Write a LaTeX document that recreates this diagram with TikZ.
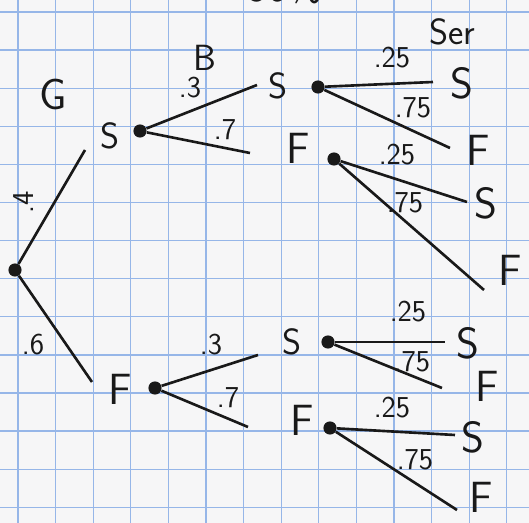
\documentclass[tikz,border=0pt]{standalone}
\usepackage{tikz}
\usepackage{xcolor}
\usetikzlibrary{positioning}

\definecolor{paper}{RGB}{246,246,247}
\definecolor{gridblue}{RGB}{150,182,232}
\definecolor{ink}{RGB}{25,25,25}

\begin{document}
\begin{tikzpicture}[
    x=0.02cm, y=-0.02cm,
    gridline/.style={draw=gridblue, line width=0.75pt},
    dot/.style={circle, fill=ink, inner sep=0pt, minimum size=7.5pt},
    branch/.style={draw=ink, line width=1.5pt},
    prob/.style={text=ink, font=\sffamily\LARGE},
    tag/.style={text=ink, font=\sffamily\huge},
    midout/.style={text=ink, font=\sffamily\huge},
    leaf/.style={text=ink, font=\sffamily\Huge}
]

% Paper and grid
\clip (0,0) rectangle (529,523);
\fill[paper] (0,0) rectangle (529,523);
\foreach \i in {0,...,13} {
    \draw[gridline] ({18+37.6*\i},0) -- ({18+37.6*\i},523);
    \draw[gridline] (0,{12+38.1*\i}) -- (529,{12+38.1*\i});
}

% Heading (cut off at the top)
\node[leaf] (head) at (285,-14) {50\%};

% Root
\node[dot] (root) at (15,270) {};
\node[leaf] (G) at (53,94) {G};
\node[prob, rotate=90] (pG) at (24,202) {.4};
\node[prob] (pGF) at (33,345) {.6};
\coordinate (eS) at (85,150);
\coordinate (eF) at (92,382);
\draw[branch] (root) -- (eS);
\draw[branch] (root) -- (eF);

% Level 1: S
\node[midout] (S1) at (110,136) {S};
\node[dot] (dS1) at (140,131) {};
\node[tag] (B) at (205,58) {B};
\node[prob] (p1) at (190,88) {.3};
\node[prob] (p2) at (225,130) {.7};
\coordinate (eSS) at (257,85);
\coordinate (eSF) at (250,153);
\draw[branch] (dS1) -- (eSS);
\draw[branch] (dS1) -- (eSF);

% Level 1: F
\node[leaf] (F1) at (120,389) {F};
\node[dot] (dF1) at (155,388) {};
\node[prob] (p3) at (211,345) {.3};
\node[prob] (p4) at (228,398) {.7};
\coordinate (eFS) at (258,355);
\coordinate (eFF) at (248,427);
\draw[branch] (dF1) -- (eFS);
\draw[branch] (dF1) -- (eFF);

% Level 2: S after S
\node[midout] (SS) at (278,86) {S};
\node[dot] (dSS) at (318,87) {};
\node[tag] (Ser) at (452,32) {Ser};
\node[prob] (q1) at (392,58) {.25};
\node[prob] (q2) at (413,108) {.75};
\node[leaf] (SSS) at (462,83) {S};
\node[leaf] (SSF) at (478,150) {F};
\coordinate (eSSS) at (433,82);
\coordinate (eSSF) at (450,148);
\draw[branch] (dSS) -- (eSSS);
\draw[branch] (dSS) -- (eSSF);

% Level 2: F after S
\node[leaf] (SF) at (298,148) {F};
\node[dot] (dSF) at (334,159) {};
\node[prob] (q3) at (397,155) {.25};
\node[prob] (q4) at (405,203) {.75};
\node[leaf] (SFS) at (486,203) {S};
\node[leaf] (SFF) at (510,270) {F};
\coordinate (eSFS) at (467,202);
\coordinate (eSFF) at (484,290);
\draw[branch] (dSF) -- (eSFS);
\draw[branch] (dSF) -- (eSFF);

% Level 2: S after F
\node[midout] (FS) at (292,342) {S};
\node[dot] (dFS) at (328,342) {};
\node[prob] (q5) at (408,312) {.25};
\node[prob] (q6) at (412,362) {.75};
\node[leaf] (FSS) at (468,343) {S};
\node[leaf] (FSF) at (487,386) {F};
\coordinate (eFSS) at (445,342);
\coordinate (eFSF) at (442,388);
\draw[branch] (dFS) -- (eFSS);
\draw[branch] (dFS) -- (eFSF);

% Level 2: F after F
\node[leaf] (FF) at (302,420) {F};
\node[dot] (dFF) at (330,428) {};
\node[prob] (q7) at (392,408) {.25};
\node[prob] (q8) at (415,460) {.75};
\node[leaf] (FFS) at (473,437) {S};
\node[leaf] (FFF) at (481,497) {F};
\coordinate (eFFS) at (455,435);
\coordinate (eFFF) at (457,510);
\draw[branch] (dFF) -- (eFFS);
\draw[branch] (dFF) -- (eFFF);

\end{tikzpicture}
\end{document}
